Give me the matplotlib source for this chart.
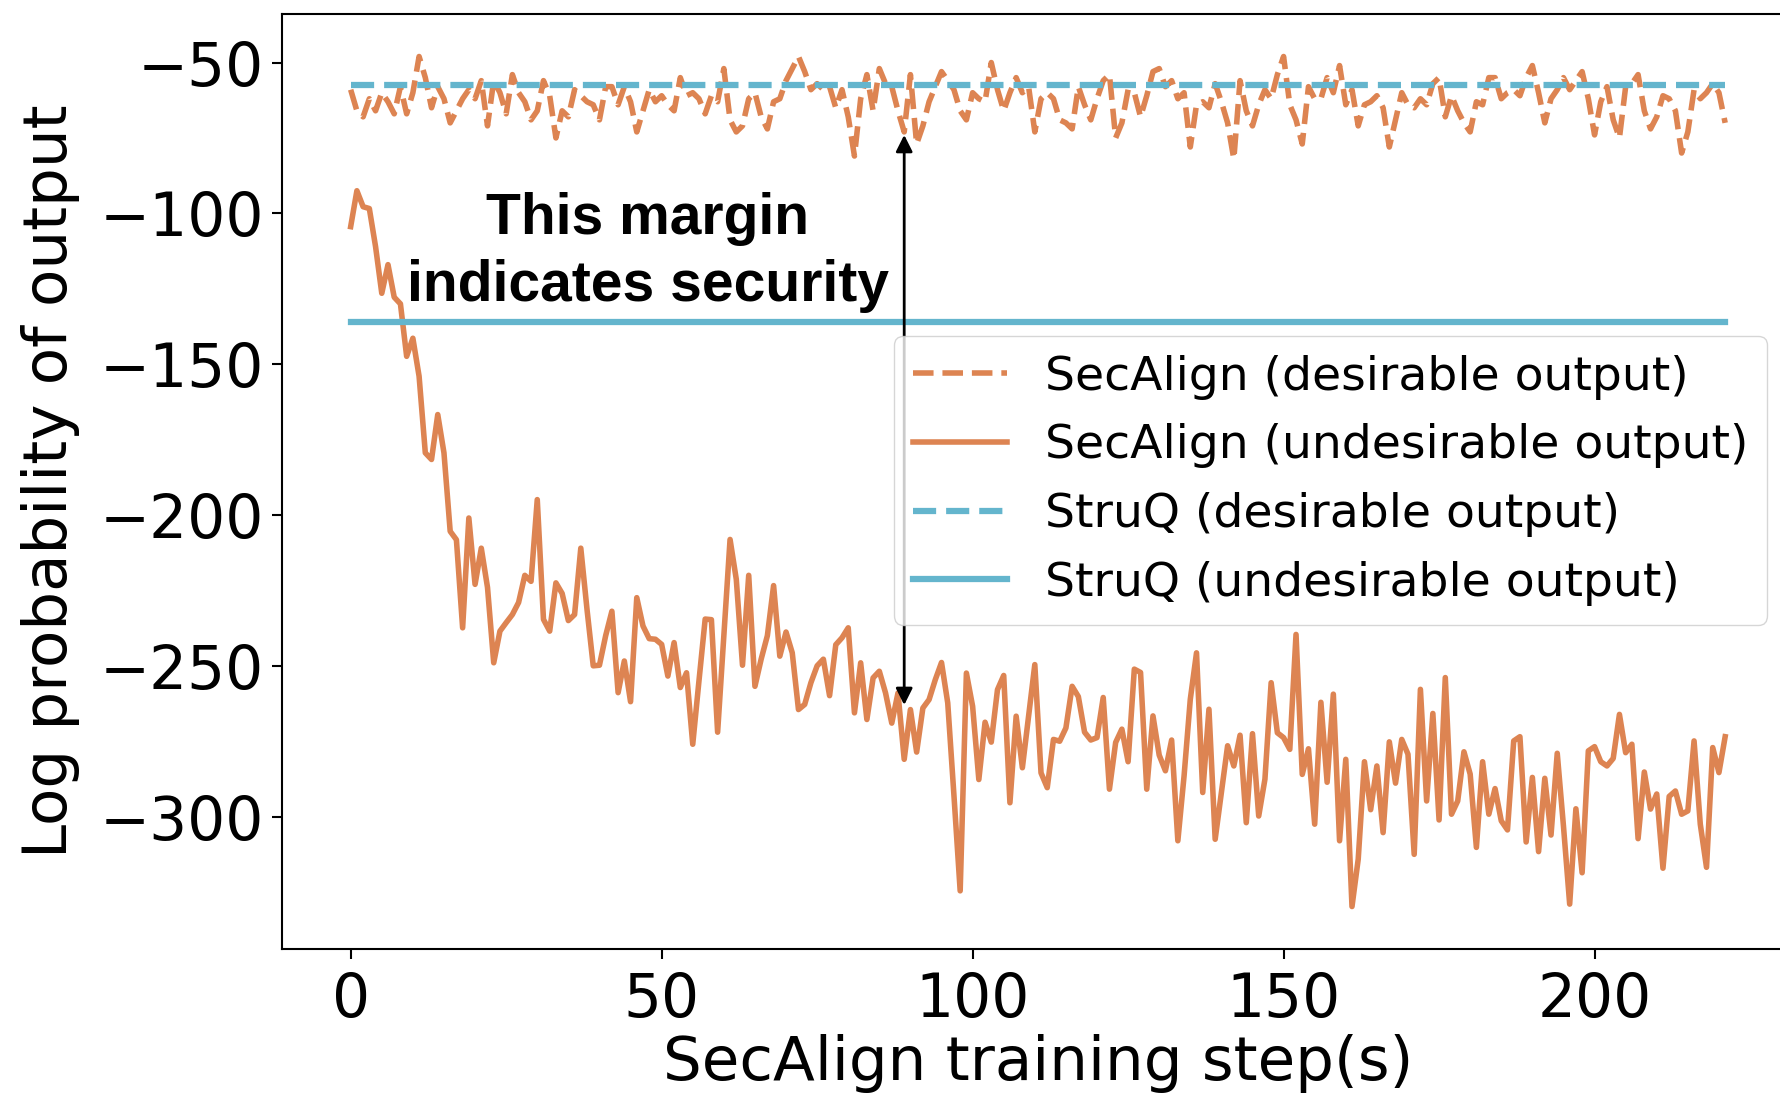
import numpy as np
import matplotlib
matplotlib.use("Agg")
import matplotlib.pyplot as plt

# log probabilities, one value per training step
secalign_undesirable = [
    -104.4, -92.5, -97.8, -98.4, -111, -126.5, -117, -127.8, -130, -147.4,
    -141.4, -154, -179.4, -181.6, -166.7, -179.4, -205.4, -208.2, -237.4, -201,
    -223, -211, -224, -249, -238.5, -235.7, -233, -229, -220, -222,
    -194.9, -234.6, -238.5, -222.5, -226, -235, -233, -211, -231.3, -250,
    -249.8, -240, -231.9, -258.9, -248.4, -261.9, -227.4, -236.8, -241, -241.2,
    -242.9, -253.4, -242.3, -257.2, -252.3, -276, -255, -234.5, -234.7, -272,
    -240, -208.1, -221.3, -249.8, -220, -256.8, -247.8, -240, -223.4, -246.8,
    -238.8, -245.7, -264.5, -262.8, -255.6, -250, -247.8, -259.9, -243, -240.7,
    -237.4, -265.6, -249, -267.8, -254, -251.8, -259, -269, -259, -281,
    -264.5, -278.6, -264, -261.2, -254.6, -248.9, -262.3, -293, -324.6, -252.4,
    -263.4, -287.7, -268.7, -275.3, -257.9, -253.2, -295.4, -266.7, -283.8, -266.7,
    -249.6, -285.5, -290.4, -274.4, -275, -270.6, -256.8, -260.2, -272, -274.6,
    -273.8, -260.5, -290.9, -275.4, -271, -281.8, -251.1, -252.2, -290.9, -266.6,
    -279.6, -284.8, -274.6, -308, -286.5, -261.1, -245.7, -292, -264.4, -307.5,
    -292, -276.5, -283.2, -273, -302, -272.5, -299.8, -287.6, -255.6, -272.2,
    -273.8, -277.7, -239.6, -286, -277.5, -302.5, -262.1, -288.6, -259.4, -308,
    -281, -329.8, -314.1, -281.8, -297.7, -283.2, -305.3, -275.2, -288.9, -274.4,
    -279.3, -312.5, -257.8, -294.8, -265.8, -301.1, -253.9, -299.2, -294.8, -278.5,
    -285.9, -310.2, -281.8, -299.2, -290.7, -301.4, -304.4, -274.9, -273.5, -308.4,
    -287, -311.6, -287.3, -306.1, -279, -303.1, -329, -297.4, -318.6, -278.2,
    -276.8, -281.8, -283.2, -280.7, -266.1, -278.8, -276, -307.3, -285.2, -297.5,
    -292.5, -317.1, -293.3, -291.5, -299.2, -298.1, -274.9, -302.5, -316.8, -277.1,
    -285.4, -273.5,
]

secalign_desirable = [
    -59, -66, -68, -62, -66, -60, -63, -67, -58, -67,
    -60, -48, -55, -65, -58, -62, -70, -66, -62, -59,
    -62, -56, -71, -56, -60, -67, -54, -60, -63, -69,
    -66, -56, -61, -75, -66, -68, -59, -61, -63, -64,
    -69, -58, -58, -64, -58, -63, -73, -66, -59, -63,
    -61, -64, -66, -55, -61, -60, -62, -67, -61, -63,
    -52, -69, -73, -71, -62, -60, -68, -72, -63, -62,
    -56, -52, -48, -53, -59, -57, -59, -58, -65, -59,
    -68, -81, -62, -54, -66, -52, -57, -58, -66, -73,
    -54, -77, -71, -63, -58, -53, -56, -59, -66, -69,
    -60, -62, -63, -50, -59, -66, -60, -55, -60, -58,
    -73, -62, -60, -62, -69, -70, -72, -58, -64, -69,
    -62, -56, -54, -75, -70, -59, -60, -68, -61, -53,
    -52, -58, -56, -62, -60, -78, -64, -63, -65, -57,
    -63, -70, -82, -56, -66, -71, -64, -59, -62, -54,
    -48, -64, -69, -77, -58, -62, -62, -55, -60, -51,
    -64, -59, -71, -64, -63, -61, -65, -78, -69, -60,
    -64, -65, -62, -64, -57, -55, -68, -61, -66, -70,
    -73, -63, -64, -55, -55, -62, -60, -59, -61, -55,
    -51, -60, -70, -62, -59, -55, -59, -56, -53, -62,
    -74, -63, -58, -69, -75, -58, -57, -54, -66, -72,
    -68, -61, -62, -66, -80, -73, -59, -62, -60, -57,
    -60, -70,
]

struq_desirable = -57.5
struq_undesirable = -136.0

margin_step = 89
margin_top = -74
margin_bottom = -263

orange = "#DD8452"
blue = "#64B5CD"

steps = np.arange(len(secalign_undesirable))

plt.rcParams["font.family"] = "DejaVu Sans"
fig = plt.figure(figsize=(17.8, 11.03), dpi=100)
ax = fig.add_axes([0.1584, 0.1396, 0.8494, 0.8477])

ax.plot(steps, secalign_desirable, color=orange, linestyle="--", lw=4,
        label="SecAlign (desirable output)")
ax.plot(steps, secalign_undesirable, color=orange, linestyle="-", lw=4,
        label="SecAlign (undesirable output)")
ax.plot(steps, [struq_desirable] * len(steps), color=blue, linestyle="--", lw=4.5,
        label="StruQ (desirable output)")
ax.plot(steps, [struq_undesirable] * len(steps), color=blue, linestyle="-", lw=4.5,
        label="StruQ (undesirable output)")

ax.annotate("", xy=(margin_step, margin_bottom), xytext=(margin_step, margin_top),
            arrowprops=dict(arrowstyle="<|-|>", color="black", lw=2,
                            mutation_scale=25, shrinkA=0, shrinkB=0))
ax.text(47.8, -113, "This margin\nindicates security", ha="center", va="center",
        fontsize=41, fontweight="bold", family="Liberation Sans", linespacing=1.3)

ax.tick_params(labelsize=43, length=7, width=1.5)
ax.tick_params(axis="x", pad=9)
ax.tick_params(axis="y", pad=6)
for sp in ax.spines.values():
    sp.set_linewidth(1.5)
ax.set_xlabel("SecAlign training step(s)", fontsize=44, labelpad=3)
ax.set_ylabel("Log probability of output", fontsize=44, labelpad=14)
ax.set_xticks([0, 50, 100, 150, 200])
ax.set_yticks([-50, -100, -150, -200, -250, -300])

ax.legend(loc="upper right", bbox_to_anchor=(1767 / 1780, 1 - 336 / 1103),
          bbox_transform=fig.transFigure, borderaxespad=0, fontsize=34,
          framealpha=0.8)

fig.savefig("out.png", dpi=100)
